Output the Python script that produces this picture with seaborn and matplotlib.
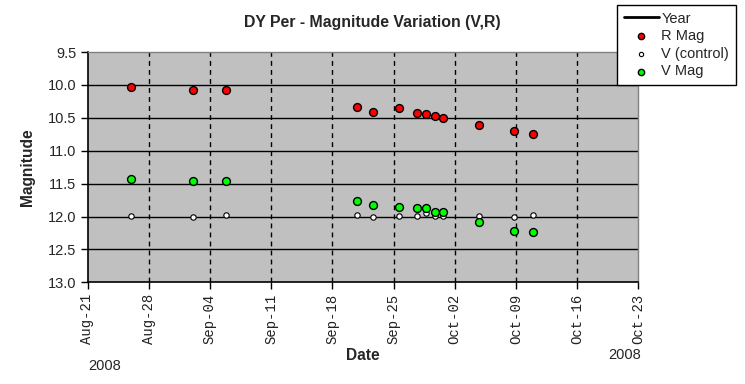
import matplotlib
matplotlib.use("Agg")
import matplotlib.pyplot as plt
import seaborn as sns
import pandas as pd

# ---- data ----
obs_dates = ["2008-08-25 23:15", "2008-09-02 01:00", "2008-09-05 21:30",
             "2008-09-20 21:00", "2008-09-22 16:00", "2008-09-25 15:20",
             "2008-09-27 16:30", "2008-09-28 17:15", "2008-09-29 18:00",
             "2008-09-30 15:50", "2008-10-04 19:25", "2008-10-08 19:10",
             "2008-10-10 22:30"]
r_mag = [10.03, 10.08, 10.08, 10.33, 10.41, 10.35, 10.42, 10.44, 10.47,
         10.51, 10.61, 10.70, 10.74]
v_control = [11.99, 12.01, 11.98, 11.98, 12.01, 11.99, 11.99, 11.95, 11.99,
             11.99, 11.99, 12.01, 11.98]
v_mag = [11.43, 11.46, 11.46, 11.76, 11.82, 11.85, 11.87, 11.87, 11.93,
         11.93, 12.08, 12.22, 12.23]
x_start = "2008-08-21"
x_end = "2008-10-23"
y_ticks = [9.5, 10.0, 10.5, 11.0, 11.5, 12.0, 12.5, 13.0]

df = pd.DataFrame({"Date": pd.to_datetime(obs_dates), "R Mag": r_mag,
                   "V (control)": v_control, "V Mag": v_mag})

sns.set_style("white")
plt.rcParams["font.family"] = ["Liberation Sans", "DejaVu Sans"]

fig = plt.figure(figsize=(7.45, 3.84), dpi=100)
ax = fig.add_axes([87.5 / 745, 1 - 282.3 / 384, (638.3 - 87.5) / 745, (282.3 - 52) / 384])
ax.set_facecolor("#C0C0C0")

# Year series (legend only in reference)
ax.plot([], [], color="black", lw=2.0, label="Year")
sns.scatterplot(data=df, x="Date", y="R Mag", ax=ax, color="#FF0000", s=32,
                edgecolor="black", linewidth=1.0, label="R Mag", zorder=5)
sns.scatterplot(data=df, x="Date", y="V (control)", ax=ax, color="white", s=15,
                edgecolor="black", linewidth=0.8, label="V (control)", zorder=4)
sns.scatterplot(data=df, x="Date", y="V Mag", ax=ax, color="#00FF00", s=32,
                edgecolor="black", linewidth=1.0, label="V Mag", zorder=6)

ax.set_xlim(pd.Timestamp(x_start), pd.Timestamp(x_end))
ax.set_ylim(13.0, 9.5)
ax.set_yticks(y_ticks)
ax.set_yticklabels([f"{v:.1f}" for v in y_ticks], fontsize=10.5)
ticks = pd.date_range(x_start, x_end, freq="7D")
ax.set_xticks(ticks)
ax.set_xticklabels([t.strftime("%b-%d") for t in ticks], rotation=90,
                   fontsize=10, family="Liberation Mono", color="#222222")

for y in y_ticks[1:-1]:
    ax.axhline(y, color="black", lw=1.0, zorder=1)
for t in ticks[1:-1]:
    ax.axvline(t, color="black", lw=1.0, ls=(0, (3.5, 3)), zorder=1)

ax.tick_params(axis="both", direction="out", length=5, width=1, color="black",
               left=True, bottom=True, pad=3)
for s in ["left", "bottom"]:
    ax.spines[s].set_color("black")
    ax.spines[s].set_linewidth(1.2)
for s in ["top", "right"]:
    ax.spines[s].set_color("#808080")
    ax.spines[s].set_linewidth(1.0)

ax.set_xlabel("")
ax.set_ylabel("")
if ax.legend_:
    ax.legend_.remove()

fig.text(372 / 745, 1 - 22 / 384, "DY Per - Magnitude Variation (V,R)",
         ha="center", va="center", fontsize=11.4, fontweight="bold")
fig.text(27 / 745, 1 - 167 / 384, "Magnitude", rotation=90, ha="center",
         va="center", fontsize=11.2, fontweight="bold")
fig.text(363 / 745, 1 - 355 / 384, "Date", ha="center", va="center",
         fontsize=11.2, fontweight="bold")
fig.text(105 / 745, 1 - 366 / 384, "2008", ha="center", va="center", fontsize=10.5)
fig.text(625 / 745, 1 - 355 / 384, "2008", ha="center", va="center", fontsize=10.5)

handles, labels = ax.get_legend_handles_labels()
leg = fig.legend(handles, labels, loc="upper left",
                 bbox_to_anchor=(617 / 745, 1 - 5 / 384), fontsize=10.5,
                 frameon=True, fancybox=False, edgecolor="black",
                 framealpha=1, borderpad=0.45, labelspacing=0.25,
                 handlelength=2.4, handletextpad=0.2, borderaxespad=0,
                 markerscale=0.8)
leg.get_frame().set_linewidth(1.0)

fig.savefig("out.png", dpi=100)
